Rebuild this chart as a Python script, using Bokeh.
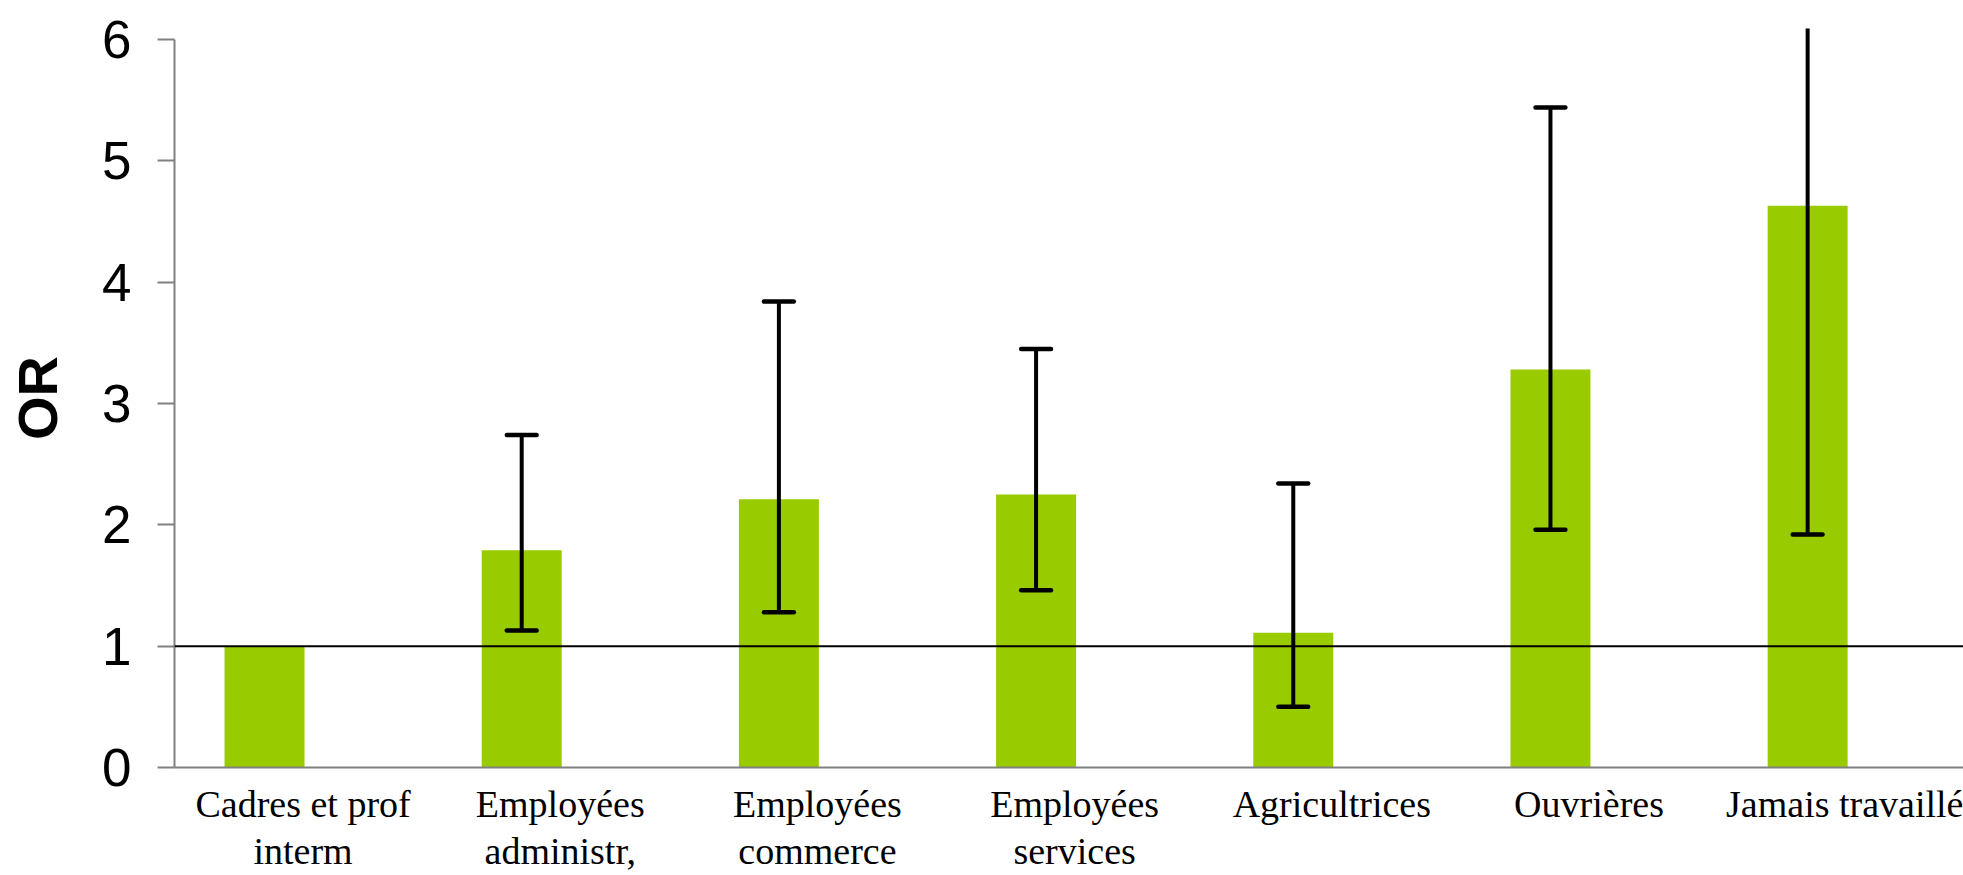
from bokeh.plotting import figure
from bokeh.models import Range1d, FixedTicker, Span
from bokeh.embed import file_html
from bokeh.resources import INLINE

# ---- data ----
categories = ["Cadres et prof\ninterm", "Employées\nadministr,", "Employées\ncommerce",
              "Employées\nservices", "Agricultrices", "Ouvrières", "Jamais travaillé"]
or_values = [1.00, 1.79, 2.21, 2.25, 1.11, 3.28, 4.63]
ci_low = [None, 1.13, 1.28, 1.46, 0.50, 1.96, 1.92]
ci_high = [None, 2.74, 3.84, 3.45, 2.34, 5.44, 6.30]
y_ticks = [0, 1, 2, 3, 4, 5, 6]
reference_level = 1

# ---- layout / style ----
GREEN = "#99CC00"
AXIS_GRAY = "#808080"
bar_offset = -0.15
bar_width = 0.311
cap_half = 0.058

pos = [i + 1 for i in range(len(categories))]
bar_x = [p_ + bar_offset for p_ in pos]

p = figure(width=1963, height=875, output_backend="svg", toolbar_location=None,
           x_range=Range1d(0.5, 7.456), y_range=Range1d(0, 6.091),
           min_border_left=174, min_border_right=0, min_border_top=28, min_border_bottom=108)
p.outline_line_color = None
p.background_fill_color = "white"
p.border_fill_color = "white"
p.xgrid.visible = False
p.ygrid.visible = False

p.vbar(x=bar_x, top=or_values, bottom=0, width=bar_width, fill_color=GREEN, line_color=None)

# error bars (bars with a CI only)
ex, lo, hi = [], [], []
for x, l, h in zip(bar_x, ci_low, ci_high):
    if l is not None:
        ex.append(x); lo.append(l); hi.append(h)
p.segment(x0=ex, y0=lo, x1=ex, y1=hi, line_color="black", line_width=4)
p.segment(x0=[x - cap_half for x in ex], y0=lo, x1=[x + cap_half for x in ex], y1=lo,
          line_color="black", line_width=4.5, line_cap="round")
p.segment(x0=[x - cap_half for x in ex], y0=hi, x1=[x + cap_half for x in ex], y1=hi,
          line_color="black", line_width=4.5, line_cap="round")

p.add_layout(Span(location=reference_level, dimension="width", line_color="black", line_width=2))

# y axis
ya = p.yaxis[0]
ya.ticker = FixedTicker(ticks=y_ticks)
ya.bounds = (0, 6)
ya.axis_line_color = AXIS_GRAY
ya.axis_line_width = 2
ya.major_tick_line_color = AXIS_GRAY
ya.major_tick_line_width = 2
ya.major_tick_out = 17
ya.major_tick_in = 0
ya.minor_tick_line_color = None
ya.major_label_standoff = 26
ya.major_label_text_font = "Liberation Sans"
ya.major_label_text_font_size = "53px"
ya.major_label_text_color = "black"
ya.axis_label = "OR"
ya.axis_label_text_font = "Liberation Sans"
ya.axis_label_text_font_style = "bold"
ya.axis_label_text_font_size = "56px"
ya.axis_label_text_color = "black"
ya.axis_label_standoff = 30

# x axis
xa = p.xaxis[0]
xa.ticker = FixedTicker(ticks=pos)
xa.major_label_overrides = {k: c for k, c in zip(pos, categories)}
xa.axis_line_color = AXIS_GRAY
xa.axis_line_width = 2
xa.major_tick_line_color = None
xa.major_tick_out = 0
xa.major_tick_in = 0
xa.minor_tick_line_color = None
xa.major_label_standoff = 15
xa.major_label_text_font = "Liberation Serif"
xa.major_label_text_font_size = "38px"
xa.major_label_text_color = "black"
xa.major_label_text_line_height = 1.12

open("out.html", "w").write(file_html(p, INLINE))
